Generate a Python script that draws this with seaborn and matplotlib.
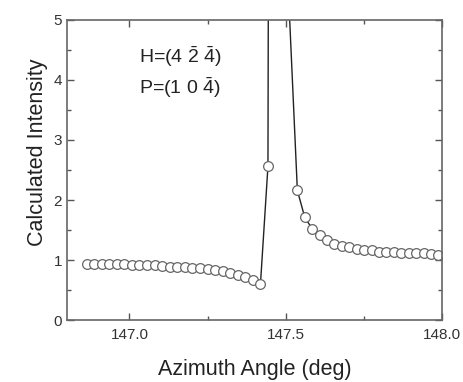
import matplotlib
matplotlib.use("Agg")
import matplotlib.pyplot as plt
import numpy as np
import pandas as pd
import seaborn as sns
from matplotlib.ticker import MultipleLocator

# left branch (below the peak)
angle_left = np.linspace(146.863, 147.419, 24)
intensity_left = [0.94, 0.94, 0.94, 0.93, 0.93, 0.93, 0.92, 0.92, 0.91, 0.91,
                  0.90, 0.89, 0.89, 0.88, 0.87, 0.86, 0.85, 0.83, 0.81, 0.78,
                  0.75, 0.71, 0.66, 0.60]

# points around the peak (two are far off the top of the axes)
angle_peak = [147.443, 147.467, 147.490]
intensity_peak = [2.56, 60.0, 7.6]

# right branch
angle_right = np.linspace(147.537, 147.988, 20)
intensity_right = [2.16, 1.71, 1.52, 1.41, 1.33, 1.27, 1.23, 1.21, 1.19, 1.17,
                   1.16, 1.14, 1.14, 1.13, 1.12, 1.12, 1.11, 1.11, 1.10, 1.09]

df = pd.DataFrame({
    "angle": np.concatenate([angle_left, angle_peak, angle_right]),
    "intensity": np.concatenate([intensity_left, intensity_peak, intensity_right]),
})

sns.set_style("ticks")
plt.rcParams["font.family"] = ["Liberation Sans", "DejaVu Sans"]
plt.rcParams["mathtext.fontset"] = "custom"
plt.rcParams["mathtext.rm"] = "Liberation Sans"
plt.rcParams["mathtext.it"] = "Liberation Sans"

fig = plt.figure(figsize=(4.64, 3.82), dpi=100)
ax = fig.add_axes([0.144, 0.162, 0.809, 0.786])

sns.lineplot(data=df, x="angle", y="intensity", ax=ax, color="#222222",
             linewidth=1.0, marker="o", markersize=7,
             markerfacecolor="white", markeredgecolor="#666666",
             markeredgewidth=0.9, sort=False)

ax.set_xlim(146.8, 148.0)
ax.set_ylim(0, 5)
ax.xaxis.set_major_locator(MultipleLocator(0.5))
ax.xaxis.set_minor_locator(MultipleLocator(0.25))
ax.yaxis.set_major_locator(MultipleLocator(1))
ax.yaxis.set_minor_locator(MultipleLocator(0.5))
ax.xaxis.set_major_formatter(matplotlib.ticker.FormatStrFormatter("%.1f"))

ax.tick_params(which="both", direction="in", top=True, right=True,
               color="#555555", labelsize=11, labelcolor="#333333")
ax.tick_params(which="major", length=5, width=1)
ax.tick_params(which="minor", length=3, width=1)
ax.tick_params(axis="x", pad=6)
for s in ax.spines.values():
    s.set_color("#666666")
    s.set_linewidth(1.2)

ax.set_xlabel("Azimuth Angle (deg)", fontsize=15.5, color="#222222", labelpad=12)
ax.set_ylabel("Calculated Intensity", fontsize=15.5, color="#222222", labelpad=4)
ax.yaxis.label.set_y(0.56)

ax.text(147.032, 4.28, r"H=(4 $\bar{\mathrm{2}}$ $\bar{\mathrm{4}}$)",
        fontsize=14, color="#222222")
ax.text(147.032, 3.77, r"P=(1 0 $\bar{\mathrm{4}}$)",
        fontsize=14, color="#222222")

fig.savefig("out.png", dpi=100)
